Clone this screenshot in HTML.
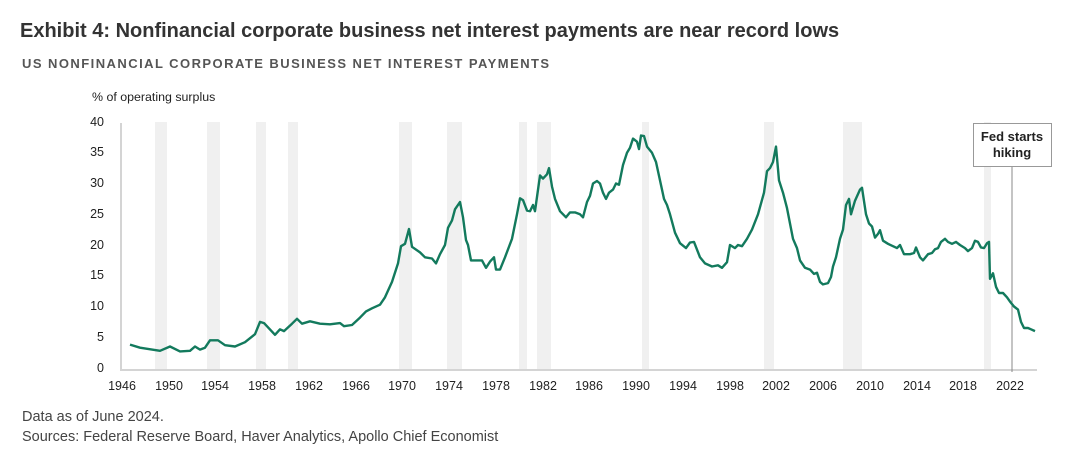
<!DOCTYPE html>
<html><head><meta charset="utf-8"><style>
body{margin:0;background:#fff;width:1066px;height:453px;overflow:hidden;font-family:"Liberation Sans",sans-serif;}
</style></head><body>
<svg width="1066" height="453" xmlns="http://www.w3.org/2000/svg" font-family="Liberation Sans, sans-serif">
<text x="20" y="37" font-size="20" font-weight="bold" fill="#333">Exhibit 4: Nonfinancial corporate business net interest payments are near record lows</text>
<text x="22" y="68" font-size="13" font-weight="bold" fill="#555" letter-spacing="1.45">US NONFINANCIAL CORPORATE BUSINESS NET INTEREST PAYMENTS</text>
<text x="92" y="101" font-size="12.4" fill="#222">% of operating surplus</text>
<g fill="#f0f0f0">
<rect x="155" y="122" width="12" height="248"/><rect x="207" y="122" width="13" height="248"/>
<rect x="256" y="122" width="10" height="248"/><rect x="288" y="122" width="10" height="248"/>
<rect x="399" y="122" width="13" height="248"/><rect x="447" y="122" width="15" height="248"/>
<rect x="519" y="122" width="8" height="248"/><rect x="537" y="122" width="14" height="248"/>
<rect x="642" y="122" width="7" height="248"/><rect x="764" y="122" width="10" height="248"/>
<rect x="843" y="122" width="19" height="248"/><rect x="984" y="122" width="7" height="248"/>
</g>
<g stroke="#d4d4d4" stroke-width="2"><line x1="121" y1="123" x2="121" y2="371"/><line x1="120" y1="370" x2="1037" y2="370"/></g>
<g font-size="12.5" fill="#222" text-anchor="end">
<text x="104" y="372">0</text><text x="104" y="341">5</text><text x="104" y="310">10</text><text x="104" y="279">15</text>
<text x="104" y="249">20</text><text x="104" y="218">25</text><text x="104" y="187">30</text><text x="104" y="156">35</text><text x="104" y="126">40</text>
</g>
<g font-size="12.5" fill="#222" text-anchor="middle">
<text x="122" y="390">1946</text><text x="169" y="390">1950</text><text x="215" y="390">1954</text><text x="262" y="390">1958</text>
<text x="309" y="390">1962</text><text x="356" y="390">1966</text><text x="402" y="390">1970</text><text x="449" y="390">1974</text>
<text x="496" y="390">1978</text><text x="543" y="390">1982</text><text x="589" y="390">1986</text><text x="636" y="390">1990</text>
<text x="683" y="390">1994</text><text x="730" y="390">1998</text><text x="776" y="390">2002</text><text x="823" y="390">2006</text>
<text x="870" y="390">2010</text><text x="917" y="390">2014</text><text x="963" y="390">2018</text><text x="1010" y="390">2022</text>
</g>
<line x1="1012" y1="167" x2="1012" y2="372" stroke="#888" stroke-width="1"/>
<rect x="973.5" y="123.5" width="78" height="43" fill="#fff" stroke="#999"/>
<text x="1012" y="141" font-size="13" font-weight="bold" fill="#222" text-anchor="middle">Fed starts</text>
<text x="1012" y="157" font-size="13" font-weight="bold" fill="#222" text-anchor="middle">hiking</text>
<polyline fill="none" stroke="#137a5d" stroke-width="2.4" stroke-linejoin="round" points="130,344.6 140,347.7 152,349.6 160,350.8 170,346.5 180,351.4 190,350.8 195,346.5 200,349.6 205,347.7 210,340.3 218,340.3 225,345.2 235,346.5 245,342.2 255,334.2 260,321.9 264,323.1 275,334.8 280,329.3 284,331.1 292,323.7 297,318.8 302,323.7 310,321.3 320,323.7 330,324.3 340,323.1 344,326.2 352,325 360,317.6 366,311.4 372,308.3 380,304.7 385,297.3 392,281.9 398,263.4 401,246.2 405,243.8 409,229 412,246.8 420,252.4 425,257.3 432,258.5 436,263.4 440,254.2 445,245 448,227.8 452,220.4 455,209.3 460,202 463,217.3 466,240.1 468,245 471,260.4 478,260.4 482,260.4 486,267.8 490,261.6 494,257.3 496,269.6 500,269.6 505,257.3 512,238.8 517,214.3 520,198.3 523,200.1 527,210.6 530,211.2 533,205 535,211.2 540,175.5 543,178.6 547,174.3 549,168.1 552,186.6 555,198.9 560,211.2 566,217.3 570,212.4 575,212.4 580,214.3 583,217.3 587,202 590,195.8 593,183.5 597,181 600,183.5 603,192.7 606,198.9 609,192.7 613,189.6 616,183.5 619,184.7 623,165 627,152.8 630,147.8 633,138.6 637,141.7 639,149.1 641,135.5 644,136.1 647,146.6 652,152.8 656,162 660,180.4 664,198.9 667,205 670,214.3 675,232.7 680,243.2 686,248.1 690,242.5 694,241.9 700,257.3 705,263.4 712,266.5 718,265.3 722,267.8 727,262.2 730,245 735,248.1 738,245 742,246.2 747,238.8 752,229.6 758,214.3 764,192.7 767,171.2 770,168.1 773,162 776,146.6 779,180.4 783,192.7 787,208.1 790,223.5 793,238.8 797,248.1 800,260.4 805,267.8 810,269.6 814,273.9 817,272.7 820,281.9 823,284.4 828,283.1 831,277 833,266.5 836,257.3 840,238.8 843,229.6 846,205 849,198.9 851,214.3 855,200.7 860,189.6 862,187.8 866,214.3 869,223.5 872,226.5 875,237.6 878,233.9 880,230.2 883,240.7 888,243.8 893,246.2 897,248.1 900,245 904,254.2 910,254.2 914,253 916,247.5 920,257.3 923,260.4 928,254.2 932,253 935,249.3 938,248.1 941,241.9 945,238.8 948,241.9 952,243.8 956,241.9 960,245 965,248.1 968,251.1 972,248.1 975,240.7 978,241.9 981,247.5 984,248.1 987,243.2 989,241.9 990,278.8 993,273.3 996,286.8 999,293 1003,293 1007,297.3 1010,301.6 1014,306.5 1018,309.6 1021,321.9 1024,328 1028,328 1031,329.3 1035,331.1"/>
<text x="22" y="421" font-size="14.5" fill="#444">Data as of June 2024.</text>
<text x="22" y="441" font-size="14.5" fill="#444">Sources: Federal Reserve Board, Haver Analytics, Apollo Chief Economist</text>
</svg>
</body></html>
